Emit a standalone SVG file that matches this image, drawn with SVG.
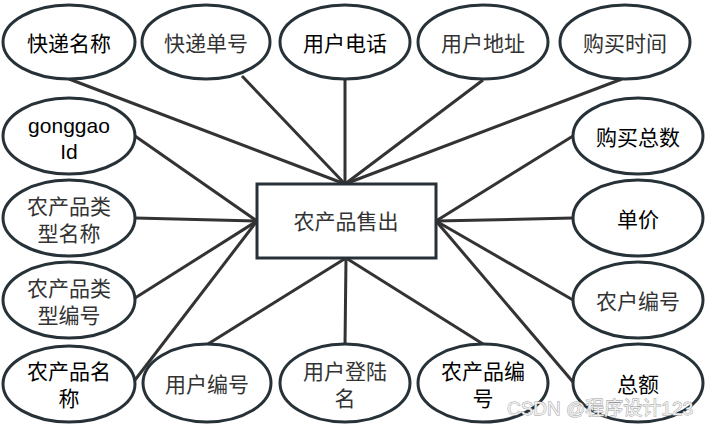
<svg xmlns="http://www.w3.org/2000/svg" width="709" height="426" viewBox="0 0 709 426">
<style>
.e{fill:#fff;stroke:#263238;stroke-width:3}
.r{fill:#fff;stroke:#263238;stroke-width:3}
.l{stroke:#333;stroke-width:3;fill:none}
.t{font-family:"Liberation Sans","Noto Sans CJK SC",sans-serif;font-size:21px;fill:#333;text-anchor:middle;dominant-baseline:central}
.k{fill:#000}
.w{font-family:"Liberation Sans","Noto Sans CJK SC",sans-serif;font-size:19px;fill:#eee;stroke:#999;stroke-width:0.8;paint-order:stroke;text-anchor:middle;dominant-baseline:central}
</style>
<rect width="709" height="426" fill="#fff"/>
<g id="connectors">
<line class="l" x1="69" y1="79" x2="345" y2="184"/>
<line class="l" x1="242" y1="76" x2="345" y2="184"/>
<line class="l" x1="345" y1="80" x2="345" y2="184"/>
<line class="l" x1="483" y1="80" x2="345" y2="184"/>
<line class="l" x1="622" y1="79" x2="345" y2="184"/>
<line class="l" x1="135" y1="136" x2="257" y2="221"/>
<line class="l" x1="135" y1="218" x2="257" y2="221"/>
<line class="l" x1="135" y1="298" x2="257" y2="221"/>
<line class="l" x1="135" y1="380" x2="257" y2="221"/>
<line class="l" x1="208" y1="344" x2="346" y2="258"/>
<line class="l" x1="345" y1="345" x2="346" y2="258"/>
<line class="l" x1="483" y1="344" x2="346" y2="258"/>
<line class="l" x1="573" y1="136" x2="436" y2="221"/>
<line class="l" x1="573" y1="218" x2="436" y2="221"/>
<line class="l" x1="573" y1="300" x2="436" y2="221"/>
<line class="l" x1="573" y1="382" x2="436" y2="221"/>
</g>
<g id="center"><rect class="r" x="257" y="184" width="179" height="74"/><text class="t" x="346" y="221">农产品售出</text></g>
<g id="n1"><ellipse class="e" cx="69" cy="42" rx="66" ry="37"/><text class="t k" x="69" y="43">快递名称</text></g>
<g id="n2"><ellipse class="e" cx="206" cy="42" rx="64" ry="37"/><text class="t" x="206" y="43">快递单号</text></g>
<g id="n3"><ellipse class="e" cx="345" cy="42" rx="65" ry="37"/><text class="t k" x="345" y="43">用户电话</text></g>
<g id="n4"><ellipse class="e" cx="483" cy="42" rx="65" ry="37"/><text class="t" x="483" y="43">用户地址</text></g>
<g id="n5"><ellipse class="e" cx="625" cy="42" rx="65" ry="37"/><text class="t" x="625" y="43">购买时间</text></g>
<g id="n6"><ellipse class="e" cx="69" cy="136" rx="66" ry="38"/><text class="t k" x="69" y="125">gonggao</text><text class="t k" x="69" y="151">Id</text></g>
<g id="n7"><ellipse class="e" cx="69" cy="218" rx="66" ry="38"/><text class="t" x="69" y="206">农产品类</text><text class="t" x="69" y="233">型名称</text></g>
<g id="n8"><ellipse class="e" cx="69" cy="300" rx="66" ry="38"/><text class="t" x="69" y="288">农产品类</text><text class="t" x="69" y="315">型编号</text></g>
<g id="n9"><ellipse class="e" cx="69" cy="384" rx="66" ry="38"/><text class="t k" x="69" y="371">农产品名</text><text class="t k" x="69" y="398">称</text></g>
<g id="n10"><ellipse class="e" cx="207" cy="383" rx="64" ry="39"/><text class="t" x="207" y="384">用户编号</text></g>
<g id="n11"><ellipse class="e" cx="345" cy="383" rx="65" ry="39"/><text class="t" x="345" y="371">用户登陆</text><text class="t" x="345" y="398">名</text></g>
<g id="n12"><ellipse class="e" cx="483" cy="383" rx="65" ry="39"/><text class="t k" x="483" y="371">农产品编</text><text class="t k" x="483" y="398">号</text></g>
<g id="n13"><ellipse class="e" cx="638" cy="136" rx="65" ry="38"/><text class="t k" x="638" y="137">购买总数</text></g>
<g id="n14"><ellipse class="e" cx="638" cy="218" rx="65" ry="38"/><text class="t k" x="638" y="219">单价</text></g>
<g id="n15"><ellipse class="e" cx="638" cy="300" rx="65" ry="38"/><text class="t" x="638" y="301">农户编号</text></g>
<g id="n16"><ellipse class="e" cx="638" cy="383" rx="65" ry="39"/><text class="t k" x="638" y="384">总额</text></g>
<text class="w" x="600" y="408">CSDN @程序设计123</text>
</svg>
